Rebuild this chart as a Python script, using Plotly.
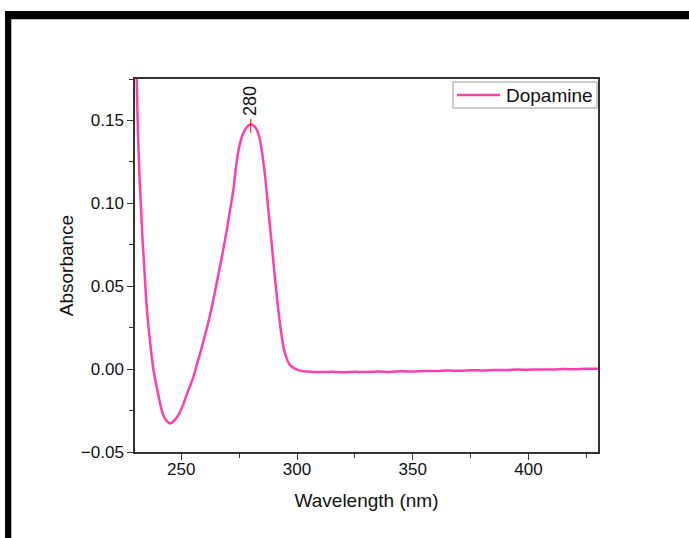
import plotly.graph_objects as go

wavelength = [230.3, 230.7, 231.0, 231.4, 231.9, 232.6, 233.3, 234.2, 235.1, 236.5, 237.9, 240.1,
              242.2, 243.7, 245.1, 246.5, 248.7, 250.2, 251.8, 253.4, 254.9, 256.8, 258.8,
              260.6, 262.4, 265.3, 268.9, 271.0, 272.5, 273.9, 275.4, 276.8, 278.5, 280.0,
              281.3, 282.6, 283.7, 284.7, 286.2, 287.6, 289.0, 290.4, 291.9, 293.4, 294.8,
              297.0, 300.5, 305.6, 310, 315, 320, 325, 330, 335, 340, 345, 350,
              355, 360, 365, 370, 375, 380, 385, 390, 395, 400, 405, 410, 415, 420, 425, 430]
absorbance = [0.1950, 0.1778, 0.1576, 0.1374, 0.1173, 0.0974, 0.0770, 0.0568, 0.0367, 0.0165,
              0.0004, -0.0157, -0.0278, -0.0313, -0.0328, -0.0318, -0.0278, -0.0235, -0.0175,
              -0.0115, -0.0060, 0.0030, 0.0130, 0.0225, 0.0325, 0.0520, 0.0780, 0.0955, 0.1082,
              0.1250, 0.1365, 0.1425, 0.1462, 0.1475, 0.1468, 0.1445, 0.1400, 0.1324, 0.1163,
              0.0961, 0.0760, 0.0558, 0.0357, 0.0195, 0.0095, 0.0024, -0.0006,
              -0.0016, -0.0018, -0.0016, -0.0019, -0.0016, -0.0018, -0.0015, -0.0017,
              -0.0013, -0.0015, -0.0011, -0.0012, -0.0009, -0.0010, -0.0007, -0.0008, -0.0005,
              -0.0006, -0.0003, -0.0004, -0.0002, -0.0003, 0.0000, -0.0001, 0.0002, 0.0002]

peak_x = 280.0
peak_y = 0.1475
peak_label = "280"

series_name = "Dopamine"
line_color = "#ff3fac"

x_ticks = [250, 300, 350, 400]
y_ticks = [-0.05, 0.0, 0.05, 0.10, 0.15]

FONT = "Liberation Sans, Arial"

fig = go.Figure()
fig.add_trace(go.Scatter(
    x=wavelength, y=absorbance, mode="lines", name=series_name, showlegend=False,
    line=dict(color=line_color, width=2.5, shape="spline", smoothing=1.0),
))

# red peak marker
fig.add_trace(go.Scatter(
    x=[peak_x, peak_x], y=[peak_y - 0.0050, peak_y + 0.0035], mode="lines",
    line=dict(color="#ff0000", width=1), showlegend=False, hoverinfo="skip",
))

fig.add_annotation(
    x=peak_x, y=peak_y + 0.0038, xref="x", yref="y", text=peak_label, showarrow=False,
    textangle=-90, yanchor="bottom", xanchor="center",
    font=dict(family=FONT, size=18, color="#111"),
)

W, H = 689, 538
L, R, T, B = 135, 91, 79, 86
pw, ph = W - L - R, H - T - B

def px(xp):
    return (xp - L) / pw

def py(yp):
    return 1 - (yp - T) / ph

shapes = [
    dict(type="rect", xref="paper", yref="paper", x0=px(5), x1=px(700), y0=py(19.3), y1=py(11),
         fillcolor="black", line=dict(width=0), layer="above"),
    dict(type="rect", xref="paper", yref="paper", x0=px(5), x1=px(11.3), y0=py(600), y1=py(11),
         fillcolor="black", line=dict(width=0), layer="above"),
    # legend box
    dict(type="rect", xref="paper", yref="paper", x0=px(453), x1=px(597), y0=py(108), y1=py(82),
         fillcolor="white", line=dict(color="#9a9a9a", width=1), layer="above"),
    dict(type="line", xref="paper", yref="paper", x0=px(457), x1=px(500), y0=py(95), y1=py(95),
         line=dict(color=line_color, width=2.5), layer="above"),
]

fig.add_annotation(
    x=px(504), y=py(95), xref="paper", yref="paper", text=series_name, showarrow=False,
    xanchor="left", yanchor="middle", font=dict(family=FONT, size=19, color="#111"),
)

axis_common = dict(
    showline=True, linecolor="#333333", linewidth=1.5, mirror=True,
    ticks="outside", ticklen=6, tickwidth=1.3, tickcolor="#333333",
    showgrid=False, zeroline=False,
    tickfont=dict(family=FONT, size=17, color="#111"),
)

fig.update_layout(
    width=W, height=H,
    margin=dict(l=L, r=R, t=T, b=B),
    paper_bgcolor="white", plot_bgcolor="white",
    shapes=shapes,
    showlegend=False,
    xaxis=dict(
        range=[230, 430], tickvals=x_ticks, ticklabelstandoff=-5,
        minor=dict(ticks="outside", ticklen=4, tickcolor="#333333", dtick=25, tick0=225),
        title=dict(text="Wavelength (nm)", font=dict(family=FONT, size=19, color="#111"), standoff=16),
        **axis_common,
    ),
    yaxis=dict(
        range=[-0.05, 0.175], tickvals=y_ticks, tickformat=".2f",
        minor=dict(ticks="outside", ticklen=4, tickcolor="#333333", dtick=0.025, tick0=-0.05),
        title=dict(text="Absorbance", font=dict(family=FONT, size=19, color="#111"), standoff=2),
        **axis_common,
    ),
)

fig.write_html("out.html")
